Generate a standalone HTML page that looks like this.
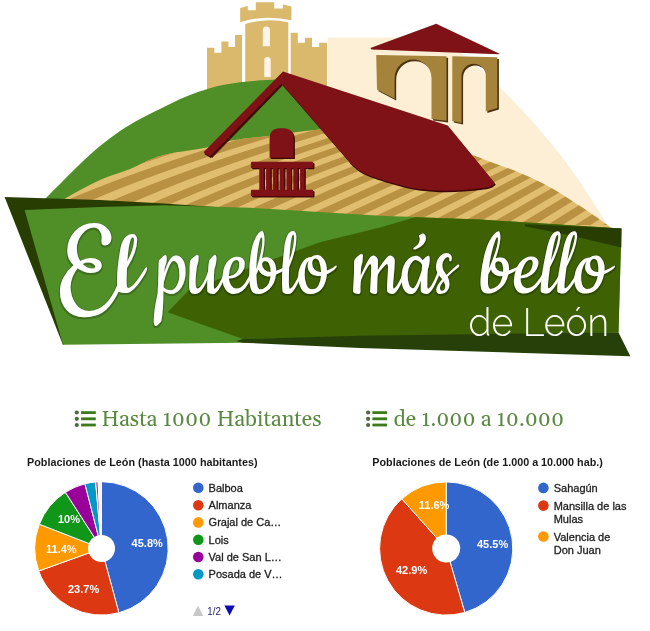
<!DOCTYPE html><html><head><meta charset="utf-8"><title>El pueblo más bello de León</title><style>html,body{margin:0;padding:0;background:#fff;width:650px;height:631px;overflow:hidden}svg{display:block;filter:blur(0.55px)}</style></head><body><svg width="650" height="631" viewBox="0 0 650 631">
<defs><clipPath id="fc"><path d="M50,215 L58,205C59.3,203.8 59.0,202.2 66,198C73.0,193.8 89.3,184.8 100,180C110.7,175.2 121.7,172.4 130,169C138.3,165.6 143.3,162.3 150,159.7C156.7,157.1 160.8,155.5 170,153.5C179.2,151.5 194.9,149.9 205.4,147.7C215.9,145.5 222.2,142.3 233,140.3C243.8,138.3 256.3,137.4 270,135.7C283.7,134.0 298.3,131.6 315,130C331.7,128.4 352.5,126.0 370,126C387.5,126.0 402.7,125.1 420,130C437.3,134.9 457.3,148.3 474,155.5C490.7,162.7 507.2,167.6 520,173C532.8,178.4 540.5,182.0 550.8,187.7C561.0,193.4 571.8,200.6 581.5,207C591.2,213.4 604.0,222.5 609.2,226.2C614.5,229.9 612.4,228.5 613,229L612,240 L50,240 Z"/></clipPath><filter id="thin" x="-5%" y="-5%" width="110%" height="110%" color-interpolation-filters="sRGB"><feMorphology in="SourceAlpha" operator="dilate" radius="1" result="di0"/><feOffset in="di0" dx="0.4" dy="0.5" result="di"/><feFlood flood-color="#000000" flood-opacity="0.22"/><feComposite in2="di" operator="in" result="halo"/><feMerge><feMergeNode in="halo"/><feMergeNode in="SourceGraphic"/></feMerge></filter></defs>
<rect width="650" height="631" fill="#ffffff"/>
<path fill="#fdefd6" d="M328,37.5 H441.6 A636.9,636.9 0 0 1 613,235 H328 Z"/>
<path fill="#dbb96c" d="M207,95 V47.8 H214.3 V52.8 H221.4 V41.4 H228.5 V47 H235 V35 H242 V95 Z"/>
<path fill="#dbb96c" d="M290.7,95 V32.8 H297.8 V42.8 H304.9 V37.8 H312 V47 H319.2 V42.8 H327 V95 Z"/>
<path fill="#dbb96c" d="M245.2,95 V24 Q266.5,17.5 288.3,22.3 V95 Z"/>
<path fill="#dbb96c" d="M240.2,22.2 V8 L247.8,6 V10.2 H255.8 V2.2 H274.2 V8.6 H282.8 V4.3 L291.4,6.5 V20.3 Q266,14.2 240.2,22.2 Z"/>
<path fill="#fdf6e8" d="M262.8,46.3 V30 A3.6,3.6 0 0 1 270,30 V46.3 Z"/>
<path fill="#fdf6e8" d="M264.3,77 V60.2 A3.2,3.2 0 0 1 270.7,60.2 V77 Z"/>
<path fill="#508e28" d="M40,205C41.0,203.8 42.7,201.5 46,198C49.3,194.5 54.3,189.7 60,184C65.7,178.3 73.3,170.3 80,164C86.7,157.7 93.3,151.5 100,146C106.7,140.5 113.3,135.5 120,131C126.7,126.5 133.3,122.7 140,119C146.7,115.3 152.5,112.7 160,109C167.5,105.3 176.6,100.5 185,97C193.4,93.5 202.4,90.2 210.7,87.9C219.0,85.6 226.6,84.3 235,83C243.4,81.7 253.9,80.9 261.4,80.3C268.9,79.7 274.4,79.5 280,79.5C285.6,79.5 289.2,79.1 295,80.5C300.8,81.9 308.3,84.4 315,88C321.7,91.6 330.0,97.5 335,102C340.0,106.5 343.3,112.8 345,115L345,215 L36,215Z"/>
<path fill="#e0bd6f" d="M50,215 L58,205C59.3,203.8 59.0,202.2 66,198C73.0,193.8 89.3,184.8 100,180C110.7,175.2 121.7,172.4 130,169C138.3,165.6 143.3,162.3 150,159.7C156.7,157.1 160.8,155.5 170,153.5C179.2,151.5 194.9,149.9 205.4,147.7C215.9,145.5 222.2,142.3 233,140.3C243.8,138.3 256.3,137.4 270,135.7C283.7,134.0 298.3,131.6 315,130C331.7,128.4 352.5,126.0 370,126C387.5,126.0 402.7,125.1 420,130C437.3,134.9 457.3,148.3 474,155.5C490.7,162.7 507.2,167.6 520,173C532.8,178.4 540.5,182.0 550.8,187.7C561.0,193.4 571.8,200.6 581.5,207C591.2,213.4 604.0,222.5 609.2,226.2C614.5,229.9 612.4,228.5 613,229L612,240 L50,240 Z"/>
<g clip-path="url(#fc)" fill="#b99142"><path d="M-78.2,225.0 L-68.3,220.0 L-58.0,215.0 L-47.3,210.0 L-36.2,205.0 L-24.7,200.0 L-12.8,195.0 L-0.5,190.0 L12.2,185.0 L25.3,180.0 L38.8,175.0 L52.7,170.0 L67.0,165.0 L81.7,160.0 L96.8,155.0 L112.3,150.0 L128.2,145.0 L144.5,140.0 L161.2,135.0 L178.3,130.0 L195.8,125.0 L213.7,120.0 L232.0,115.0 L250.7,110.0 L269.8,105.0 L289.3,100.0 L309.2,95.0 L329.5,90.0 L350.2,85.0 L375.0,85.0 L354.3,90.0 L334.0,95.0 L314.1,100.0 L294.6,105.0 L275.5,110.0 L256.8,115.0 L238.5,120.0 L220.6,125.0 L203.1,130.0 L186.0,135.0 L169.3,140.0 L153.0,145.0 L137.1,150.0 L121.6,155.0 L106.5,160.0 L91.8,165.0 L77.5,170.0 L63.6,175.0 L50.1,180.0 L37.0,185.0 L24.3,190.0 L12.0,195.0 L0.1,200.0 L-11.4,205.0 L-22.5,210.0 L-33.2,215.0 L-43.5,220.0 L-53.4,225.0Z"/>
<path d="M-32.2,225.0 L-22.3,220.0 L-12.0,215.0 L-1.3,210.0 L9.8,205.0 L21.3,200.0 L33.2,195.0 L45.5,190.0 L58.2,185.0 L71.3,180.0 L84.8,175.0 L98.7,170.0 L113.0,165.0 L127.7,160.0 L142.8,155.0 L158.3,150.0 L174.2,145.0 L190.5,140.0 L207.2,135.0 L224.3,130.0 L241.8,125.0 L259.7,120.0 L278.0,115.0 L296.7,110.0 L315.8,105.0 L335.3,100.0 L355.2,95.0 L375.5,90.0 L396.2,85.0 L421.0,85.0 L400.3,90.0 L380.0,95.0 L360.1,100.0 L340.6,105.0 L321.5,110.0 L302.8,115.0 L284.5,120.0 L266.6,125.0 L249.1,130.0 L232.0,135.0 L215.3,140.0 L199.0,145.0 L183.1,150.0 L167.6,155.0 L152.5,160.0 L137.8,165.0 L123.5,170.0 L109.6,175.0 L96.1,180.0 L83.0,185.0 L70.3,190.0 L58.0,195.0 L46.1,200.0 L34.6,205.0 L23.5,210.0 L12.8,215.0 L2.5,220.0 L-7.4,225.0Z"/>
<path d="M13.8,225.0 L23.7,220.0 L34.0,215.0 L44.7,210.0 L55.8,205.0 L67.3,200.0 L79.2,195.0 L91.5,190.0 L104.2,185.0 L117.3,180.0 L130.8,175.0 L144.7,170.0 L159.0,165.0 L173.7,160.0 L188.8,155.0 L204.3,150.0 L220.2,145.0 L236.5,140.0 L253.2,135.0 L270.3,130.0 L287.8,125.0 L305.7,120.0 L324.0,115.0 L342.7,110.0 L361.8,105.0 L381.3,100.0 L401.2,95.0 L421.5,90.0 L442.2,85.0 L467.0,85.0 L446.3,90.0 L426.0,95.0 L406.1,100.0 L386.6,105.0 L367.5,110.0 L348.8,115.0 L330.5,120.0 L312.6,125.0 L295.1,130.0 L278.0,135.0 L261.3,140.0 L245.0,145.0 L229.1,150.0 L213.6,155.0 L198.5,160.0 L183.8,165.0 L169.5,170.0 L155.6,175.0 L142.1,180.0 L129.0,185.0 L116.3,190.0 L104.0,195.0 L92.1,200.0 L80.6,205.0 L69.5,210.0 L58.8,215.0 L48.5,220.0 L38.6,225.0Z"/>
<path d="M59.7,225.0 L69.7,220.0 L80.0,215.0 L90.7,210.0 L101.8,205.0 L113.3,200.0 L125.1,195.0 L137.4,190.0 L150.0,185.0 L163.0,180.0 L176.3,175.0 L190.1,170.0 L204.2,165.0 L218.7,160.0 L233.6,155.0 L248.9,150.0 L264.5,145.0 L280.5,140.0 L296.9,135.0 L313.7,130.0 L330.9,125.0 L348.4,120.0 L366.3,115.0 L384.6,110.0 L403.3,105.0 L422.3,100.0 L441.8,95.0 L461.6,90.0 L481.8,85.0 L498.6,85.0 L479.1,90.0 L459.9,95.0 L441.0,100.0 L422.5,105.0 L404.4,110.0 L386.6,115.0 L369.1,120.0 L352.1,125.0 L335.3,130.0 L318.9,135.0 L302.9,140.0 L287.2,145.0 L271.9,150.0 L256.9,155.0 L242.3,160.0 L228.1,165.0 L214.2,170.0 L200.6,175.0 L187.4,180.0 L174.5,185.0 L162.0,190.0 L149.9,195.0 L138.1,200.0 L126.7,205.0 L115.6,210.0 L104.8,215.0 L94.5,220.0 L84.4,225.0Z"/>
<path d="M105.5,225.0 L115.6,220.0 L126.0,215.0 L136.8,210.0 L147.8,205.0 L159.2,200.0 L171.0,195.0 L183.1,190.0 L195.5,185.0 L208.2,180.0 L221.3,175.0 L234.7,170.0 L248.4,165.0 L262.5,160.0 L276.8,155.0 L291.6,150.0 L306.6,145.0 L322.0,140.0 L337.7,135.0 L353.7,130.0 L370.1,125.0 L386.8,120.0 L403.8,115.0 L421.2,110.0 L438.9,105.0 L456.9,100.0 L475.3,95.0 L494.0,90.0 L513.0,85.0 L526.9,85.0 L508.4,90.0 L490.2,95.0 L472.3,100.0 L454.8,105.0 L437.5,110.0 L420.6,115.0 L403.9,120.0 L387.6,125.0 L371.6,130.0 L355.9,135.0 L340.5,140.0 L325.4,145.0 L310.6,150.0 L296.1,155.0 L282.0,160.0 L268.1,165.0 L254.5,170.0 L241.3,175.0 L228.4,180.0 L215.8,185.0 L203.4,190.0 L191.4,195.0 L179.7,200.0 L168.4,205.0 L157.3,210.0 L146.5,215.0 L136.1,220.0 L125.9,225.0Z"/>
<path d="M143.3,225.0 L153.5,220.0 L164.0,215.0 L174.8,210.0 L185.8,205.0 L197.2,200.0 L208.9,195.0 L220.8,190.0 L233.0,185.0 L245.6,180.0 L258.4,175.0 L271.5,170.0 L284.9,165.0 L298.6,160.0 L312.5,155.0 L326.8,150.0 L341.4,145.0 L356.2,140.0 L371.4,135.0 L386.8,130.0 L402.5,125.0 L418.5,120.0 L434.8,115.0 L451.4,110.0 L468.3,105.0 L485.5,100.0 L502.9,95.0 L520.7,90.0 L538.7,85.0 L552.4,85.0 L534.9,90.0 L517.6,95.0 L500.6,100.0 L483.9,105.0 L467.4,110.0 L451.3,115.0 L435.3,120.0 L419.7,125.0 L404.3,130.0 L389.2,135.0 L374.4,140.0 L359.8,145.0 L345.5,150.0 L331.5,155.0 L317.7,160.0 L304.2,165.0 L291.0,170.0 L278.0,175.0 L265.4,180.0 L252.9,185.0 L240.8,190.0 L228.9,195.0 L217.3,200.0 L206.0,205.0 L194.9,210.0 L184.1,215.0 L173.6,220.0 L163.3,225.0Z"/>
<path d="M180.4,225.0 L190.7,220.0 L201.3,215.0 L212.1,210.0 L223.1,205.0 L234.5,200.0 L246.0,195.0 L257.8,190.0 L269.9,185.0 L282.2,180.0 L294.8,175.0 L307.6,170.0 L320.7,165.0 L334.0,160.0 L347.6,155.0 L361.4,150.0 L375.5,145.0 L389.8,140.0 L404.4,135.0 L419.2,130.0 L434.3,125.0 L449.7,120.0 L465.2,115.0 L481.1,110.0 L497.2,105.0 L513.5,100.0 L530.1,95.0 L546.9,90.0 L564.0,85.0 L577.5,85.0 L560.9,90.0 L544.5,95.0 L528.4,100.0 L512.5,105.0 L496.8,110.0 L481.4,115.0 L466.2,120.0 L451.2,125.0 L436.5,130.0 L421.9,135.0 L407.7,140.0 L393.6,145.0 L379.8,150.0 L366.2,155.0 L352.8,160.0 L339.7,165.0 L326.8,170.0 L314.1,175.0 L301.7,180.0 L289.5,185.0 L277.5,190.0 L265.7,195.0 L254.2,200.0 L242.9,205.0 L231.9,210.0 L221.0,215.0 L210.4,220.0 L200.1,225.0Z"/>
<path d="M216.8,225.0 L227.3,220.0 L237.9,215.0 L248.7,210.0 L259.8,205.0 L271.0,200.0 L282.5,195.0 L294.2,190.0 L306.1,185.0 L318.2,180.0 L330.6,175.0 L343.1,170.0 L355.9,165.0 L368.8,160.0 L382.0,155.0 L395.4,150.0 L409.0,145.0 L422.8,140.0 L436.9,135.0 L451.1,130.0 L465.6,125.0 L480.2,120.0 L495.1,115.0 L510.2,110.0 L525.5,105.0 L541.0,100.0 L556.8,95.0 L572.7,90.0 L588.9,85.0 L600.3,85.0 L584.7,90.0 L569.4,95.0 L554.2,100.0 L539.2,105.0 L524.4,110.0 L509.8,115.0 L495.4,120.0 L481.2,125.0 L467.1,130.0 L453.3,135.0 L439.6,140.0 L426.1,145.0 L412.8,150.0 L399.7,155.0 L386.8,160.0 L374.1,165.0 L361.6,170.0 L349.2,175.0 L337.1,180.0 L325.1,185.0 L313.3,190.0 L301.8,195.0 L290.4,200.0 L279.2,205.0 L268.1,210.0 L257.3,215.0 L246.7,220.0 L236.2,225.0Z"/>
<path d="M252.7,225.0 L263.2,220.0 L273.8,215.0 L284.6,210.0 L295.6,205.0 L306.7,200.0 L318.0,195.0 L329.4,190.0 L341.0,185.0 L352.8,180.0 L364.7,175.0 L376.8,170.0 L389.1,165.0 L401.5,160.0 L414.1,155.0 L426.9,150.0 L439.8,145.0 L452.9,140.0 L466.1,135.0 L479.5,130.0 L493.1,125.0 L506.8,120.0 L520.7,115.0 L534.8,110.0 L549.0,105.0 L563.4,100.0 L577.9,95.0 L592.6,90.0 L607.5,85.0 L615.8,85.0 L601.7,90.0 L587.8,95.0 L573.9,100.0 L560.3,105.0 L546.7,110.0 L533.3,115.0 L520.0,120.0 L506.8,125.0 L493.8,130.0 L480.9,135.0 L468.1,140.0 L455.5,145.0 L443.0,150.0 L430.7,155.0 L418.5,160.0 L406.4,165.0 L394.4,170.0 L382.6,175.0 L370.9,180.0 L359.4,185.0 L348.0,190.0 L336.7,195.0 L325.5,200.0 L314.5,205.0 L303.6,210.0 L292.9,215.0 L282.3,220.0 L271.8,225.0Z"/>
<path d="M288.0,225.0 L298.5,220.0 L309.1,215.0 L319.8,210.0 L330.6,205.0 L341.6,200.0 L352.6,195.0 L363.7,190.0 L375.0,185.0 L386.4,180.0 L397.8,175.0 L409.4,170.0 L421.1,165.0 L432.9,160.0 L444.8,155.0 L456.8,150.0 L468.9,145.0 L481.2,140.0 L493.5,135.0 L506.0,130.0 L518.5,125.0 L531.2,120.0 L544.0,115.0 L556.9,110.0 L569.8,105.0 L583.0,100.0 L596.2,95.0 L609.5,90.0 L622.9,85.0 L631.1,85.0 L618.4,90.0 L605.8,95.0 L593.3,100.0 L580.9,105.0 L568.6,110.0 L556.3,115.0 L544.1,120.0 L532.0,125.0 L520.0,130.0 L508.0,135.0 L496.2,140.0 L484.4,145.0 L472.7,150.0 L461.1,155.0 L449.5,160.0 L438.1,165.0 L426.7,170.0 L415.4,175.0 L404.1,180.0 L393.0,185.0 L381.9,190.0 L371.0,195.0 L360.1,200.0 L349.2,205.0 L338.5,210.0 L327.8,215.0 L317.3,220.0 L306.8,225.0Z"/>
<path d="M322.7,225.0 L333.2,220.0 L343.8,215.0 L354.4,210.0 L365.1,205.0 L375.8,200.0 L386.6,195.0 L397.4,190.0 L408.3,185.0 L419.3,180.0 L430.3,175.0 L441.4,170.0 L452.5,165.0 L463.7,160.0 L474.9,155.0 L486.2,150.0 L497.6,145.0 L509.0,140.0 L520.4,135.0 L531.9,130.0 L543.5,125.0 L555.1,120.0 L566.8,115.0 L578.5,110.0 L590.3,105.0 L602.2,100.0 L614.1,95.0 L626.0,90.0 L638.1,85.0 L646.1,85.0 L634.8,90.0 L623.6,95.0 L612.4,100.0 L601.2,105.0 L590.0,110.0 L578.9,115.0 L567.8,120.0 L556.7,125.0 L545.7,130.0 L534.7,135.0 L523.7,140.0 L512.7,145.0 L501.8,150.0 L490.9,155.0 L480.0,160.0 L469.2,165.0 L458.3,170.0 L447.5,175.0 L436.8,180.0 L426.0,185.0 L415.3,190.0 L404.6,195.0 L394.0,200.0 L383.3,205.0 L372.7,210.0 L362.2,215.0 L351.6,220.0 L341.1,225.0Z"/>
<path d="M356.7,225.0 L367.3,220.0 L377.8,215.0 L388.3,210.0 L398.9,205.0 L409.4,200.0 L420.0,195.0 L430.5,190.0 L441.1,185.0 L451.6,180.0 L462.2,175.0 L472.8,170.0 L483.3,165.0 L493.9,160.0 L504.5,155.0 L515.1,150.0 L525.7,145.0 L536.2,140.0 L546.8,135.0 L557.4,130.0 L568.0,125.0 L578.6,120.0 L589.2,115.0 L599.8,110.0 L610.4,105.0 L621.0,100.0 L631.7,95.0 L642.3,90.0 L652.9,85.0 L669.0,85.0 L658.5,90.0 L648.0,95.0 L637.5,100.0 L627.0,105.0 L616.5,110.0 L606.0,115.0 L595.5,120.0 L585.0,125.0 L574.5,130.0 L564.0,135.0 L553.4,140.0 L542.9,145.0 L532.4,150.0 L521.9,155.0 L511.4,160.0 L500.9,165.0 L490.4,170.0 L479.9,175.0 L469.4,180.0 L458.9,185.0 L448.4,190.0 L437.9,195.0 L427.4,200.0 L416.9,205.0 L406.3,210.0 L395.8,215.0 L385.3,220.0 L374.8,225.0Z"/>
<path d="M390.6,225.0 L400.9,220.0 L411.2,215.0 L421.5,210.0 L431.8,205.0 L442.1,200.0 L452.4,195.0 L462.7,190.0 L472.9,185.0 L483.2,180.0 L493.5,175.0 L503.8,170.0 L514.1,165.0 L524.4,160.0 L534.7,155.0 L545.0,150.0 L555.3,145.0 L565.6,140.0 L575.8,135.0 L586.1,130.0 L596.4,125.0 L606.7,120.0 L617.0,115.0 L627.3,110.0 L637.6,105.0 L647.9,100.0 L658.2,95.0 L668.5,90.0 L678.7,85.0 L687.8,85.0 L677.8,90.0 L667.8,95.0 L657.9,100.0 L647.9,105.0 L638.0,110.0 L628.0,115.0 L618.0,120.0 L608.1,125.0 L598.1,130.0 L588.2,135.0 L578.2,140.0 L568.2,145.0 L558.3,150.0 L548.3,155.0 L538.4,160.0 L528.4,165.0 L518.4,170.0 L508.5,175.0 L498.5,180.0 L488.6,185.0 L478.6,190.0 L468.6,195.0 L458.7,200.0 L448.7,205.0 L438.8,210.0 L428.8,215.0 L418.8,220.0 L408.9,225.0Z"/>
<path d="M424.4,225.0 L434.1,220.0 L443.8,215.0 L453.5,210.0 L463.1,205.0 L472.8,200.0 L482.5,195.0 L492.2,190.0 L501.9,185.0 L511.5,180.0 L521.2,175.0 L530.9,170.0 L540.6,165.0 L550.3,160.0 L559.9,155.0 L569.6,150.0 L579.3,145.0 L589.0,140.0 L598.6,135.0 L608.3,130.0 L618.0,125.0 L627.7,120.0 L637.4,115.0 L647.0,110.0 L656.7,105.0 L666.4,100.0 L676.1,95.0 L685.8,90.0 L695.4,85.0 L704.1,85.0 L694.8,90.0 L685.4,95.0 L676.0,100.0 L666.7,105.0 L657.3,110.0 L647.9,115.0 L638.6,120.0 L629.2,125.0 L619.9,130.0 L610.5,135.0 L601.1,140.0 L591.8,145.0 L582.4,150.0 L573.1,155.0 L563.7,160.0 L554.3,165.0 L545.0,170.0 L535.6,175.0 L526.2,180.0 L516.9,185.0 L507.5,190.0 L498.2,195.0 L488.8,200.0 L479.4,205.0 L470.1,210.0 L460.7,215.0 L451.4,220.0 L442.0,225.0Z"/>
<path d="M457.0,225.0 L466.1,220.0 L475.1,215.0 L484.2,210.0 L493.3,205.0 L502.4,200.0 L511.5,195.0 L520.6,190.0 L529.7,185.0 L538.8,180.0 L547.9,175.0 L557.0,170.0 L566.1,165.0 L575.1,160.0 L584.2,155.0 L593.3,150.0 L602.4,145.0 L611.5,140.0 L620.6,135.0 L629.7,130.0 L638.8,125.0 L647.9,120.0 L657.0,115.0 L666.1,110.0 L675.1,105.0 L684.2,100.0 L693.3,95.0 L702.4,90.0 L711.5,85.0 L721.7,85.0 L712.9,90.0 L704.0,95.0 L695.2,100.0 L686.3,105.0 L677.4,110.0 L668.6,115.0 L659.7,120.0 L650.9,125.0 L642.0,130.0 L633.2,135.0 L624.3,140.0 L615.4,145.0 L606.6,150.0 L597.7,155.0 L588.9,160.0 L580.0,165.0 L571.2,170.0 L562.3,175.0 L553.4,180.0 L544.6,185.0 L535.7,190.0 L526.9,195.0 L518.0,200.0 L509.2,205.0 L500.3,210.0 L491.4,215.0 L482.6,220.0 L473.7,225.0Z"/>
<path d="M488.0,225.0 L496.6,220.0 L505.3,215.0 L514.0,210.0 L522.7,205.0 L531.4,200.0 L540.1,195.0 L548.7,190.0 L557.4,185.0 L566.1,180.0 L574.8,175.0 L583.5,170.0 L592.2,165.0 L600.8,160.0 L609.5,155.0 L618.2,150.0 L626.9,145.0 L635.6,140.0 L644.3,135.0 L652.9,130.0 L661.6,125.0 L670.3,120.0 L679.0,115.0 L687.7,110.0 L696.4,105.0 L705.0,100.0 L713.7,95.0 L722.4,90.0 L731.1,85.0 L741.8,85.0 L733.3,90.0 L724.8,95.0 L716.3,100.0 L707.9,105.0 L699.4,110.0 L690.9,115.0 L682.4,120.0 L673.9,125.0 L665.4,130.0 L656.9,135.0 L648.5,140.0 L640.0,145.0 L631.5,150.0 L623.0,155.0 L614.5,160.0 L606.0,165.0 L597.6,170.0 L589.1,175.0 L580.6,180.0 L572.1,185.0 L563.6,190.0 L555.1,195.0 L546.6,200.0 L538.2,205.0 L529.7,210.0 L521.2,215.0 L512.7,220.0 L504.2,225.0Z"/>
<path d="M518.1,225.0 L526.4,220.0 L534.7,215.0 L543.0,210.0 L551.3,205.0 L559.6,200.0 L568.0,195.0 L576.3,190.0 L584.6,185.0 L592.9,180.0 L601.2,175.0 L609.5,170.0 L617.9,165.0 L626.2,160.0 L634.5,155.0 L642.8,150.0 L651.1,145.0 L659.4,140.0 L667.8,135.0 L676.1,130.0 L684.4,125.0 L692.7,120.0 L701.0,115.0 L709.3,110.0 L717.7,105.0 L726.0,100.0 L734.3,95.0 L742.6,90.0 L750.9,85.0 L761.4,85.0 L753.2,90.0 L745.1,95.0 L737.0,100.0 L728.9,105.0 L720.7,110.0 L712.6,115.0 L704.5,120.0 L696.4,125.0 L688.2,130.0 L680.1,135.0 L672.0,140.0 L663.9,145.0 L655.8,150.0 L647.6,155.0 L639.5,160.0 L631.4,165.0 L623.3,170.0 L615.1,175.0 L607.0,180.0 L598.9,185.0 L590.8,190.0 L582.6,195.0 L574.5,200.0 L566.4,205.0 L558.3,210.0 L550.2,215.0 L542.0,220.0 L533.9,225.0Z"/>
<path d="M547.3,225.0 L555.3,220.0 L563.3,215.0 L571.3,210.0 L579.3,205.0 L587.3,200.0 L595.3,195.0 L603.3,190.0 L611.3,185.0 L619.3,180.0 L627.3,175.0 L635.3,170.0 L643.3,165.0 L651.3,160.0 L659.3,155.0 L667.3,150.0 L675.3,145.0 L683.3,140.0 L691.3,135.0 L699.3,130.0 L707.3,125.0 L715.3,120.0 L723.3,115.0 L731.3,110.0 L739.3,105.0 L747.3,100.0 L755.3,95.0 L763.3,90.0 L771.3,85.0 L786.4,85.0 L778.4,90.0 L770.4,95.0 L762.4,100.0 L754.4,105.0 L746.4,110.0 L738.4,115.0 L730.4,120.0 L722.4,125.0 L714.4,130.0 L706.4,135.0 L698.4,140.0 L690.4,145.0 L682.4,150.0 L674.4,155.0 L666.4,160.0 L658.4,165.0 L650.4,170.0 L642.4,175.0 L634.4,180.0 L626.4,185.0 L618.4,190.0 L610.4,195.0 L602.4,200.0 L594.4,205.0 L586.4,210.0 L578.4,215.0 L570.4,220.0 L562.4,225.0Z"/>
<path d="M575.3,225.0 L583.3,220.0 L591.3,215.0 L599.3,210.0 L607.3,205.0 L615.3,200.0 L623.3,195.0 L631.3,190.0 L639.3,185.0 L647.3,180.0 L655.3,175.0 L663.3,170.0 L671.3,165.0 L679.3,160.0 L687.3,155.0 L695.3,150.0 L703.3,145.0 L711.3,140.0 L719.3,135.0 L727.3,130.0 L735.3,125.0 L743.3,120.0 L751.3,115.0 L759.3,110.0 L767.3,105.0 L775.3,100.0 L783.3,95.0 L791.3,90.0 L799.3,85.0 L814.4,85.0 L806.4,90.0 L798.4,95.0 L790.4,100.0 L782.4,105.0 L774.4,110.0 L766.4,115.0 L758.4,120.0 L750.4,125.0 L742.4,130.0 L734.4,135.0 L726.4,140.0 L718.4,145.0 L710.4,150.0 L702.4,155.0 L694.4,160.0 L686.4,165.0 L678.4,170.0 L670.4,175.0 L662.4,180.0 L654.4,185.0 L646.4,190.0 L638.4,195.0 L630.4,200.0 L622.4,205.0 L614.4,210.0 L606.4,215.0 L598.4,220.0 L590.4,225.0Z"/>
<path d="M603.3,225.0 L611.3,220.0 L619.3,215.0 L627.3,210.0 L635.3,205.0 L643.3,200.0 L651.3,195.0 L659.3,190.0 L667.3,185.0 L675.3,180.0 L683.3,175.0 L691.3,170.0 L699.3,165.0 L707.3,160.0 L715.3,155.0 L723.3,150.0 L731.3,145.0 L739.3,140.0 L747.3,135.0 L755.3,130.0 L763.3,125.0 L771.3,120.0 L779.3,115.0 L787.3,110.0 L795.3,105.0 L803.3,100.0 L811.3,95.0 L819.3,90.0 L827.3,85.0 L842.4,85.0 L834.4,90.0 L826.4,95.0 L818.4,100.0 L810.4,105.0 L802.4,110.0 L794.4,115.0 L786.4,120.0 L778.4,125.0 L770.4,130.0 L762.4,135.0 L754.4,140.0 L746.4,145.0 L738.4,150.0 L730.4,155.0 L722.4,160.0 L714.4,165.0 L706.4,170.0 L698.4,175.0 L690.4,180.0 L682.4,185.0 L674.4,190.0 L666.4,195.0 L658.4,200.0 L650.4,205.0 L642.4,210.0 L634.4,215.0 L626.4,220.0 L618.4,225.0Z"/>
<path d="M631.3,225.0 L639.3,220.0 L647.3,215.0 L655.3,210.0 L663.3,205.0 L671.3,200.0 L679.3,195.0 L687.3,190.0 L695.3,185.0 L703.3,180.0 L711.3,175.0 L719.3,170.0 L727.3,165.0 L735.3,160.0 L743.3,155.0 L751.3,150.0 L759.3,145.0 L767.3,140.0 L775.3,135.0 L783.3,130.0 L791.3,125.0 L799.3,120.0 L807.3,115.0 L815.3,110.0 L823.3,105.0 L831.3,100.0 L839.3,95.0 L847.3,90.0 L855.3,85.0 L870.4,85.0 L862.4,90.0 L854.4,95.0 L846.4,100.0 L838.4,105.0 L830.4,110.0 L822.4,115.0 L814.4,120.0 L806.4,125.0 L798.4,130.0 L790.4,135.0 L782.4,140.0 L774.4,145.0 L766.4,150.0 L758.4,155.0 L750.4,160.0 L742.4,165.0 L734.4,170.0 L726.4,175.0 L718.4,180.0 L710.4,185.0 L702.4,190.0 L694.4,195.0 L686.4,200.0 L678.4,205.0 L670.4,210.0 L662.4,215.0 L654.4,220.0 L646.4,225.0Z"/>
<path d="M659.3,225.0 L667.3,220.0 L675.3,215.0 L683.3,210.0 L691.3,205.0 L699.3,200.0 L707.3,195.0 L715.3,190.0 L723.3,185.0 L731.3,180.0 L739.3,175.0 L747.3,170.0 L755.3,165.0 L763.3,160.0 L771.3,155.0 L779.3,150.0 L787.3,145.0 L795.3,140.0 L803.3,135.0 L811.3,130.0 L819.3,125.0 L827.3,120.0 L835.3,115.0 L843.3,110.0 L851.3,105.0 L859.3,100.0 L867.3,95.0 L875.3,90.0 L883.3,85.0 L898.4,85.0 L890.4,90.0 L882.4,95.0 L874.4,100.0 L866.4,105.0 L858.4,110.0 L850.4,115.0 L842.4,120.0 L834.4,125.0 L826.4,130.0 L818.4,135.0 L810.4,140.0 L802.4,145.0 L794.4,150.0 L786.4,155.0 L778.4,160.0 L770.4,165.0 L762.4,170.0 L754.4,175.0 L746.4,180.0 L738.4,185.0 L730.4,190.0 L722.4,195.0 L714.4,200.0 L706.4,205.0 L698.4,210.0 L690.4,215.0 L682.4,220.0 L674.4,225.0Z"/></g>
<path fill="#7f1216" d="M370.4,48 L436.2,23.8 L499.6,53.8 L498.5,54.2 L371.5,49.4 Z"/>
<g fill="#4a3410" transform="translate(1.6,1.6)"><path d="M376.2,55 L446.5,56.2 L446.5,120.8 L431.5,119 L431.5,78 A18.45,18.45 0 0 0 394.6,78 L394.6,98.8 L377,89.6 Z"/><path d="M452.3,56.2 L497.3,57.3 L497.3,108 L485.8,111.5 L485.8,76 A12.15,12.15 0 0 0 461.5,76 L461.5,123 L452.3,121 Z"/></g>
<g fill="#a5833a"><path d="M376.2,55 L446.5,56.2 L446.5,120.8 L431.5,119 L431.5,78 A18.45,18.45 0 0 0 394.6,78 L394.6,98.8 L377,89.6 Z"/><path d="M452.3,56.2 L497.3,57.3 L497.3,108 L485.8,111.5 L485.8,76 A12.15,12.15 0 0 0 461.5,76 L461.5,123 L452.3,121 Z"/></g>
<path fill="#3c0608" d="M281.5,83.5 L210,156.5 L212.2,158 L282.6,85.6 Z" opacity="0.8"/>
<path fill="#3c0608" d="M283,71.5 L447.7,125.4 L495,183.2 C493.8,183.9 493.0,186.1 487.7,187.2C482.4,188.3 471.2,189.4 463,190C454.8,190.6 446.7,190.9 438.5,190.6C430.3,190.3 422.0,189.6 413.8,188.2C405.6,186.8 397.4,184.5 389.2,182C381.0,179.5 370.8,176.3 364.6,173.4C358.5,170.5 355.1,167.0 352.3,164.8C349.5,162.6 348.7,160.8 348,160 L281.5,83.5 L210,156.5 L203.5,152.3 Z" transform="translate(0.8,1.6)"/>
<path fill="#7f1216" d="M283,71.5 L447.7,125.4 L495,183.2 C493.8,183.9 493.0,186.1 487.7,187.2C482.4,188.3 471.2,189.4 463,190C454.8,190.6 446.7,190.9 438.5,190.6C430.3,190.3 422.0,189.6 413.8,188.2C405.6,186.8 397.4,184.5 389.2,182C381.0,179.5 370.8,176.3 364.6,173.4C358.5,170.5 355.1,167.0 352.3,164.8C349.5,162.6 348.7,160.8 348,160 L281.5,83.5 L210,156.5 L203.5,152.3 Z"/>
<g transform="translate(1.2,1.2)" fill="#3c0608"><path d="M269.6,157.7 V139 Q269.6,128.3 280,128.3 H283.3 Q293.7,128.3 293.7,139 V157.7 Z"/>
<rect x="250.9" y="161.8" width="62.4" height="6.3" rx="1.2"/>
<rect x="250.9" y="189.8" width="62.4" height="6.5" rx="1.2"/>
<rect x="259.3" y="167" width="4.5" height="23.5"/>
<rect x="266.1" y="167" width="4.5" height="23.5"/>
<rect x="272.9" y="167" width="4.5" height="23.5"/>
<rect x="279.7" y="167" width="4.5" height="23.5"/>
<rect x="286.5" y="167" width="4.5" height="23.5"/>
<rect x="293.3" y="167" width="4.5" height="23.5"/>
<rect x="300.1" y="167" width="4.5" height="23.5"/></g>
<g fill="#7f1216"><path d="M269.6,157.7 V139 Q269.6,128.3 280,128.3 H283.3 Q293.7,128.3 293.7,139 V157.7 Z"/>
<rect x="250.9" y="161.8" width="62.4" height="6.3" rx="1.2"/>
<rect x="250.9" y="189.8" width="62.4" height="6.5" rx="1.2"/>
<rect x="259.3" y="167" width="4.5" height="23.5"/>
<rect x="266.1" y="167" width="4.5" height="23.5"/>
<rect x="272.9" y="167" width="4.5" height="23.5"/>
<rect x="279.7" y="167" width="4.5" height="23.5"/>
<rect x="286.5" y="167" width="4.5" height="23.5"/>
<rect x="293.3" y="167" width="4.5" height="23.5"/>
<rect x="300.1" y="167" width="4.5" height="23.5"/></g>
<path fill="#273d02" d="M4.6,196.9 L100,200 L164,203.6 L215,207 L63,345 Z"/>
<path fill="#508e28" d="M24.6,210 L100,206.9 L164,205.3 L250,207.8 L380,215.8 L480,219.6 L621.4,228.4 L618.5,332.4 L244,342.7 L63,344.8 Z"/>
<path fill="#3d6103" d="M167.7,312.3 L189,290 L260.8,263.8 L320,242.2 L380,227.5 L415.4,217.2 L480,219.6 L621.4,228.4 L618.5,332.4 L243,339 Z"/>
<path fill="#273d02" d="M525,224.3 L621.4,228.4 L621.4,247.6 L573,236 L525,226.3 Z"/>
<path fill="#27400a" d="M236,341 L243,339 L360,335.8 L618.5,332.4 L630.4,356.3 L360,348 L243,342.7 Z"/>
<g fill="#ffffff" filter="url(#thin)" font-family="Cookie, 'Liberation Serif', serif" font-size="98"><text transform="translate(57,316) scale(1,1.55)" x="0" y="-0.6" textLength="58" lengthAdjust="spacingAndGlyphs">E</text><text x="117" y="293" textLength="22.5" lengthAdjust="spacingAndGlyphs">l</text><text transform="translate(0,293) scale(1,1.07) translate(0,-293)" x="156" y="293" textLength="175.5" lengthAdjust="spacingAndGlyphs">pueblo</text><text transform="translate(0,293) scale(1,1.09) translate(0,-293)" x="353" y="293" textLength="101.6" lengthAdjust="spacingAndGlyphs">más</text><text transform="translate(0,293) skewX(-6) scale(1,1.05) translate(0,-293)" x="479" y="293" textLength="128" lengthAdjust="spacingAndGlyphs">bello</text></g>
<text x="468.5" y="335.5" fill="#ffffff" font-family="Raleway, 'Liberation Sans', sans-serif" font-weight="300" font-size="39" textLength="140.5" lengthAdjust="spacingAndGlyphs">de León</text>
<circle cx="76.8" cy="412.5" r="2.1" fill="#4b6b3b"/>
<circle cx="76.8" cy="418.8" r="2.1" fill="#4b6b3b"/>
<circle cx="76.8" cy="425" r="2.1" fill="#4b6b3b"/>
<rect x="81.1" y="411.2" width="14.7" height="2.8" fill="#3d7a1c"/>
<rect x="81.1" y="417.4" width="14.7" height="2.8" fill="#3d7a1c"/>
<rect x="81.1" y="423.6" width="14.7" height="2.8" fill="#3d7a1c"/>
<circle cx="368.1" cy="412.5" r="2.1" fill="#4b6b3b"/>
<circle cx="368.1" cy="418.8" r="2.1" fill="#4b6b3b"/>
<circle cx="368.1" cy="425" r="2.1" fill="#4b6b3b"/>
<rect x="372.4" y="411.2" width="14.7" height="2.8" fill="#3d7a1c"/>
<rect x="372.4" y="417.4" width="14.7" height="2.8" fill="#3d7a1c"/>
<rect x="372.4" y="423.6" width="14.7" height="2.8" fill="#3d7a1c"/>
<text x="101.5" y="426.4" font-family="Gelasio, Georgia, 'Liberation Serif', serif" font-size="21.5" fill="#5a8a42" textLength="220" lengthAdjust="spacingAndGlyphs">Hasta 1000 Habitantes</text>
<text x="393.5" y="426.4" font-family="Gelasio, Georgia, 'Liberation Serif', serif" font-size="21.5" fill="#5a8a42" textLength="170.5" lengthAdjust="spacingAndGlyphs">de 1.000 a 10.000</text>
<text x="27" y="465.7" textLength="230.5" lengthAdjust="spacingAndGlyphs" font-family="'Liberation Sans', Arial, sans-serif" font-size="11" font-weight="bold" fill="#1a1a1a">Poblaciones de León (hasta 1000 habitantes)</text>
<text x="372.3" y="465.7" textLength="230.5" lengthAdjust="spacingAndGlyphs" font-family="'Liberation Sans', Arial, sans-serif" font-size="11" font-weight="bold" fill="#1a1a1a">Poblaciones de León (de 1.000 a 10.000 hab.)</text>
<path d="M101.5,548.4L101.50,481.70A66.7,66.7 0 0 1 118.90,612.79Z" fill="#3366cc" stroke="#ffffff" stroke-width="1"/>
<path d="M101.5,548.4L118.90,612.79A66.7,66.7 0 0 1 38.74,570.99Z" fill="#dc3912" stroke="#ffffff" stroke-width="1"/>
<path d="M101.5,548.4L38.74,570.99A66.7,66.7 0 0 1 39.33,524.24Z" fill="#ff9900" stroke="#ffffff" stroke-width="1"/>
<path d="M101.5,548.4L39.33,524.24A66.7,66.7 0 0 1 65.41,492.31Z" fill="#109618" stroke="#ffffff" stroke-width="1"/>
<path d="M101.5,548.4L65.41,492.31A66.7,66.7 0 0 1 84.91,483.80Z" fill="#990099" stroke="#ffffff" stroke-width="1"/>
<path d="M101.5,548.4L84.91,483.80A66.7,66.7 0 0 1 95.64,481.96Z" fill="#0099c6" stroke="#ffffff" stroke-width="1"/>
<path d="M101.5,548.4L95.64,481.96A66.7,66.7 0 0 1 98.15,481.78Z" fill="#c03a5e" stroke="#ffffff" stroke-width="1"/>
<path d="M101.5,548.4L98.15,481.78A66.7,66.7 0 0 1 101.50,481.70Z" fill="#fdf0f3" stroke="#ffffff" stroke-width="1"/>
<circle cx="101.5" cy="548.4" r="13.5" fill="#ffffff"/>
<text x="131.6" y="547.4" fill="#ffffff" font-family="'Liberation Sans', Arial, sans-serif" font-size="11" font-weight="bold">45.8%</text>
<text x="68" y="593" fill="#ffffff" font-family="'Liberation Sans', Arial, sans-serif" font-size="11" font-weight="bold">23.7%</text>
<text x="46" y="553" fill="#ffffff" font-family="'Liberation Sans', Arial, sans-serif" font-size="11" font-weight="bold">11.4%</text>
<text x="58" y="523" fill="#ffffff" font-family="'Liberation Sans', Arial, sans-serif" font-size="11" font-weight="bold">10%</text>
<path d="M446.2,548.5L446.20,481.90A66.6,66.6 0 0 1 464.78,612.46Z" fill="#3366cc" stroke="#ffffff" stroke-width="1"/>
<path d="M446.2,548.5L464.78,612.46A66.6,66.6 0 0 1 401.84,498.82Z" fill="#dc3912" stroke="#ffffff" stroke-width="1"/>
<path d="M446.2,548.5L401.84,498.82A66.6,66.6 0 0 1 446.20,481.90Z" fill="#ff9900" stroke="#ffffff" stroke-width="1"/>
<circle cx="446.2" cy="548.5" r="14" fill="#ffffff"/>
<text x="477" y="547.7" fill="#ffffff" font-family="'Liberation Sans', Arial, sans-serif" font-size="11" font-weight="bold">45.5%</text>
<text x="396" y="574" fill="#ffffff" font-family="'Liberation Sans', Arial, sans-serif" font-size="11" font-weight="bold">42.9%</text>
<text x="418.8" y="509.4" fill="#ffffff" font-family="'Liberation Sans', Arial, sans-serif" font-size="11" font-weight="bold">11.6%</text>
<circle cx="198.3" cy="487.8" r="5.3" fill="#3366cc"/>
<text x="208.6" y="491.8" fill="#222222" stroke="#222222" stroke-width="0.3" font-family="'Liberation Sans', Arial, sans-serif" font-size="11">Balboa</text>
<circle cx="198.3" cy="505.2" r="5.3" fill="#dc3912"/>
<text x="208.6" y="509.2" fill="#222222" stroke="#222222" stroke-width="0.3" font-family="'Liberation Sans', Arial, sans-serif" font-size="11">Almanza</text>
<circle cx="198.3" cy="522.4" r="5.3" fill="#ff9900"/>
<text x="208.6" y="526.4" fill="#222222" stroke="#222222" stroke-width="0.3" font-family="'Liberation Sans', Arial, sans-serif" font-size="11">Grajal de Ca…</text>
<circle cx="198.3" cy="539.7" r="5.3" fill="#109618"/>
<text x="208.6" y="543.7" fill="#222222" stroke="#222222" stroke-width="0.3" font-family="'Liberation Sans', Arial, sans-serif" font-size="11">Lois</text>
<circle cx="198.3" cy="557" r="5.3" fill="#990099"/>
<text x="208.6" y="561.0" fill="#222222" stroke="#222222" stroke-width="0.3" font-family="'Liberation Sans', Arial, sans-serif" font-size="11">Val de San L…</text>
<circle cx="198.3" cy="574.2" r="5.3" fill="#0099c6"/>
<text x="208.6" y="578.2" fill="#222222" stroke="#222222" stroke-width="0.3" font-family="'Liberation Sans', Arial, sans-serif" font-size="11">Posada de V…</text>
<circle cx="543.4" cy="487.9" r="5.3" fill="#3366cc"/>
<text x="553.7" y="491.9" fill="#222222" stroke="#222222" stroke-width="0.3" font-family="'Liberation Sans', Arial, sans-serif" font-size="11">Sahagún</text>
<circle cx="543.4" cy="505.6" r="5.3" fill="#dc3912"/>
<text x="553.7" y="509.6" fill="#222222" stroke="#222222" stroke-width="0.3" font-family="'Liberation Sans', Arial, sans-serif" font-size="11">Mansilla de las</text>
<text x="553.7" y="522.8" fill="#222222" stroke="#222222" stroke-width="0.3" font-family="'Liberation Sans', Arial, sans-serif" font-size="11">Mulas</text>
<circle cx="543.4" cy="536.5" r="5.3" fill="#ff9900"/>
<text x="553.7" y="540.5" fill="#222222" stroke="#222222" stroke-width="0.3" font-family="'Liberation Sans', Arial, sans-serif" font-size="11">Valencia de</text>
<text x="553.7" y="553.7" fill="#222222" stroke="#222222" stroke-width="0.3" font-family="'Liberation Sans', Arial, sans-serif" font-size="11">Don Juan</text>
<path d="M192.8,616 L198,605.4 L203.2,616 Z" fill="#c8c8c8"/>
<text x="207.3" y="615" fill="#252570" font-family="'Liberation Sans', Arial, sans-serif" font-size="11" textLength="13.5" lengthAdjust="spacingAndGlyphs">1/2</text>
<path d="M224.4,605.4 L234.8,605.4 L229.6,615.6 Z" fill="#0c0cb4"/>
</svg></body></html>
